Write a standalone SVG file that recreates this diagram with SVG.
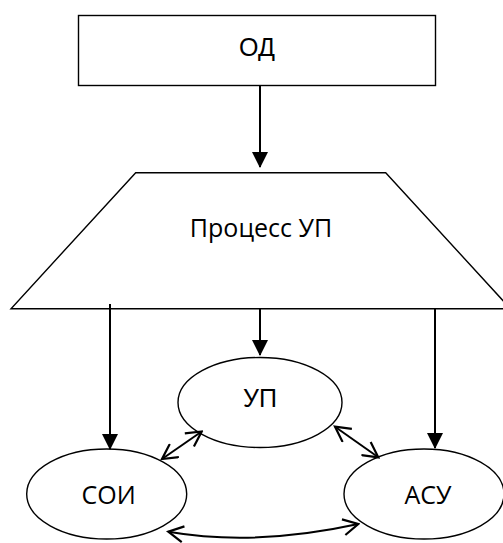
<svg xmlns="http://www.w3.org/2000/svg" width="503" height="543" viewBox="0 0 503 543">
<style>
.shape{fill:#fff;stroke:#000;stroke-width:1.4}
.conn{fill:none;stroke:#000;stroke-width:2}
.t1{font-family:"Liberation Sans",Arial,sans-serif;font-size:25px;fill:#000;text-anchor:middle}
.t2{font-family:"Open Sans","Noto Sans",sans-serif;font-size:25px;fill:#000;text-anchor:middle}
</style>
<defs>
<marker id="solid" viewBox="0 0 16 16" refX="15" refY="8" markerWidth="16" markerHeight="16" markerUnits="userSpaceOnUse" orient="auto">
<path d="M0,0 L16,8 L0,16 Z" fill="#000"/>
</marker>
<marker id="open" viewBox="0 0 18 18" refX="16" refY="9" markerWidth="18" markerHeight="18" markerUnits="userSpaceOnUse" orient="auto-start-reverse">
<path d="M1,1 L16,9 L1,17" fill="none" stroke="#000" stroke-width="2.2"/>
</marker>
</defs>
<rect width="503" height="543" fill="#fff"/>
<g id="node-od">
<rect class="shape" x="78.5" y="15.5" width="357" height="70"/>
<text class="t1" x="257" y="56">ОД</text>
</g>
<g id="node-process">
<polygon class="shape" points="135.7,172.7 385.7,172.7 510.4,308.7 11,308.7"/>
<text class="t2" x="261" y="237">Процесс УП</text>
</g>
<g id="node-up">
<ellipse class="shape" cx="260" cy="402.5" rx="82" ry="45"/>
<text class="t1" x="260" y="406.5">УП</text>
</g>
<g id="node-soi">
<ellipse class="shape" cx="106.7" cy="494" rx="80" ry="45"/>
<text class="t2" x="108.7" y="504">СОИ</text>
</g>
<g id="node-asu">
<ellipse class="shape" cx="424" cy="494" rx="80" ry="45"/>
<text class="t2" x="428" y="504">АСУ</text>
</g>
<g id="connectors">
<line class="conn" x1="260" y1="85.5" x2="260" y2="167" marker-end="url(#solid)"/>
<line class="conn" x1="110" y1="304" x2="110" y2="449" marker-end="url(#solid)"/>
<line class="conn" x1="260" y1="309" x2="260" y2="355" marker-end="url(#solid)"/>
<line class="conn" x1="435" y1="309" x2="435" y2="448" marker-end="url(#solid)"/>
<line class="conn" x1="162" y1="459" x2="201.7" y2="431.5" marker-start="url(#open)" marker-end="url(#open)"/>
<line class="conn" x1="335" y1="426.7" x2="378.3" y2="457.3" marker-start="url(#open)" marker-end="url(#open)"/>
<path class="conn" d="M168.3,531.7 Q255,546.7 358.3,524" marker-start="url(#open)" marker-end="url(#open)"/>
</g>
</svg>
